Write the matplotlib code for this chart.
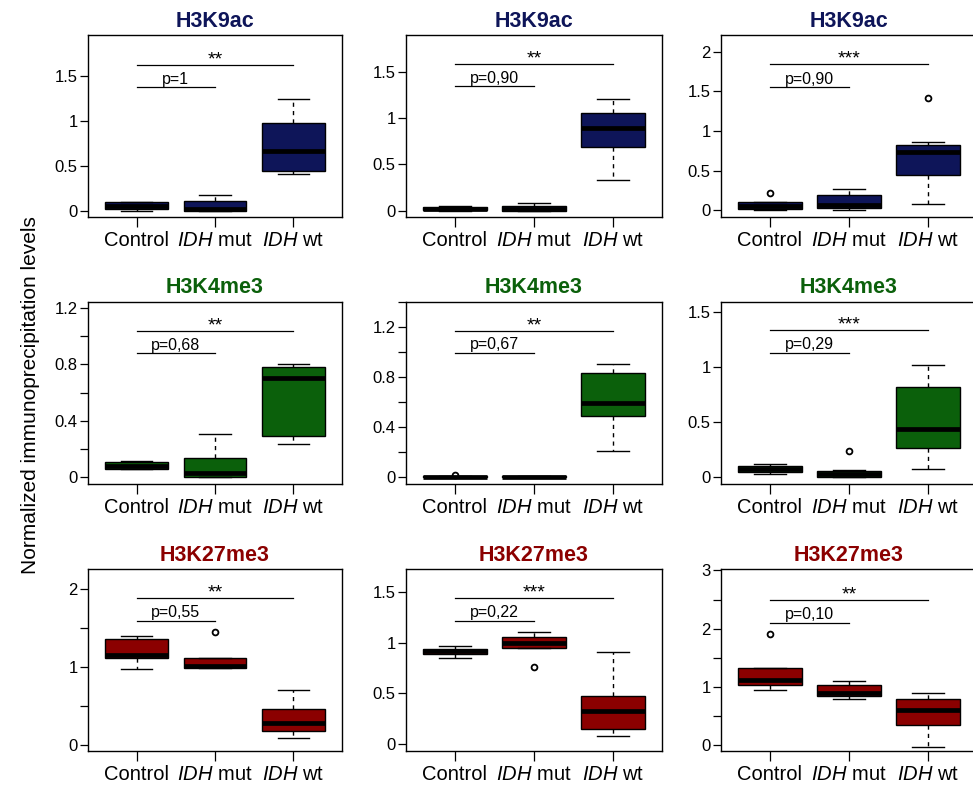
import matplotlib
matplotlib.use("Agg")
import matplotlib.pyplot as plt
import numpy as np

plt.rcParams['font.family'] = ['Liberation Sans', 'DejaVu Sans']
plt.rcParams['mathtext.fontset'] = 'custom'
plt.rcParams['mathtext.rm'] = 'Liberation Sans'
plt.rcParams['mathtext.it'] = 'Liberation Sans:italic'

# ---------------- data ----------------
titles = ["H3K9ac", "H3K9ac", "H3K9ac",
          "H3K4me3", "H3K4me3", "H3K4me3",
          "H3K27me3", "H3K27me3", "H3K27me3"]
groups = ["Control", r"$\mathit{IDH}$ mut", r"$\mathit{IDH}$ wt"]

# per panel: [Control, IDH mut, IDH wt]
whislo = [[0.00, 0.00, 0.41], [0.00, 0.00, 0.33], [0.00, 0.01, 0.084],
          [0.06, 0.00, 0.233], [0.00, 0.00, 0.21], [0.03, 0.00, 0.076],
          [0.974, 0.99, 0.094], [0.845, 0.95, 0.081], [0.947, 0.797, -0.034]]
q1 = [[0.02, 0.00, 0.445], [0.005, 0.00, 0.684], [0.02, 0.035, 0.44],
      [0.06, 0.00, 0.292], [0.00, 0.00, 0.49], [0.045, 0.005, 0.264],
      [1.12, 0.99, 0.184], [0.887, 0.949, 0.147], [1.033, 0.85, 0.344]]
med = [[0.055, 0.015, 0.66], [0.02, 0.015, 0.889], [0.06, 0.07, 0.73],
       [0.082, 0.028, 0.705], [0.005, 0.005, 0.59], [0.075, 0.035, 0.44],
       [1.154, 1.01, 0.278], [0.913, 0.995, 0.326], [1.12, 0.89, 0.602]]
q3 = [[0.093, 0.11, 0.97], [0.035, 0.05, 1.05], [0.105, 0.188, 0.83],
      [0.106, 0.14, 0.783], [0.01, 0.01, 0.83], [0.10, 0.06, 0.818],
      [1.359, 1.12, 0.46], [0.94, 1.054, 0.473], [1.33, 1.033, 0.792]]
whishi = [[0.10, 0.175, 1.245], [0.05, 0.08, 1.21], [0.105, 0.27, 0.857],
          [0.117, 0.304, 0.80], [0.01, 0.012, 0.90], [0.12, 0.065, 1.02],
          [1.39, 1.12, 0.71], [0.962, 1.106, 0.903], [1.33, 1.107, 0.895]]
fliers = [[[], [], []], [[], [], []], [[0.225], [], [1.415]],
          [[], [], []], [[0.02], [], []], [[], [0.236], []],
          [[], [1.45], []], [[], [0.76], []], [[1.91], [], []]]

p_labels = ["p=1", "p=0,90", "p=0,90",
            "p=0,68", "p=0,67", "p=0,29",
            "p=0,55", "p=0,22", "p=0,10"]
star_labels = ["**", "**", "***",
               "**", "**", "***",
               "**", "***", "**"]
p_line_y = [1.37, 1.34, 1.55, 0.877, 0.992, 1.127, 1.594, 1.216, 2.105]
star_line_y = [1.62, 1.58, 1.84, 1.037, 1.168, 1.33, 1.88, 1.435, 2.49]

# ---------------- style ----------------
ylims = [(-0.07, 1.95), (-0.068, 1.895), (-0.083, 2.21),
         (-0.047, 1.243), (-0.053, 1.395), (-0.06, 1.59),
         (-0.077, 2.25), (-0.065, 1.72), (-0.103, 3.02)]
tick_step = [0.5, 0.5, 0.5, 0.2, 0.2, 0.5, 0.5, 0.5, 0.5]
label_step = [0.5, 0.5, 0.5, 0.4, 0.4, 0.5, 1.0, 0.5, 1.0]
row_colors = ["#0e1559", "#0b600b", "#8b0000"]

W, H = 973, 790
col_px = [(88, 342), (406, 662), (721, 977)]
row_px = [(35, 217), (301.7, 484), (569.3, 751)]

fig = plt.figure(figsize=(W / 100, H / 100), dpi=100)


def fmt(v):
    s = ("%.2f" % v).rstrip("0").rstrip(".")
    return "0" if s in ("-0", "") else s


for i in range(9):
    r, c = divmod(i, 3)
    x0, x1 = col_px[c]
    t0, t1 = row_px[r]
    ax = fig.add_axes([x0 / W, 1 - t1 / H, (x1 - x0) / W, (t1 - t0) / H])
    color = row_colors[r]
    stats = []
    for g in range(3):
        stats.append(dict(med=med[i][g], q1=q1[i][g], q3=q3[i][g],
                          whislo=whislo[i][g], whishi=whishi[i][g],
                          fliers=fliers[i][g], label=groups[g]))
    ax.bxp(stats, positions=[1, 2, 3], widths=0.8, capwidths=0.4,
           patch_artist=True, showfliers=True,
           boxprops=dict(facecolor=color, edgecolor="black", linewidth=1.0),
           medianprops=dict(color="black", linewidth=3.4, solid_capstyle="butt"),
           whiskerprops=dict(color="black", linewidth=1.0, linestyle=(0, (3, 3))),
           capprops=dict(color="black", linewidth=1.0),
           flierprops=dict(marker="o", markersize=4.2, markerfacecolor="none",
                           markeredgecolor="black", markeredgewidth=1.3))
    ax.set_xlim(0.38, 3.62)
    ax.set_ylim(*ylims[i])

    # significance brackets
    ax.plot([1, 2], [p_line_y[i]] * 2, color="black", lw=0.9)
    ax.plot([1, 3], [star_line_y[i]] * 2, color="black", lw=0.9)
    ax.annotate(p_labels[i], (1.5, p_line_y[i]), xytext=(0, 0.5),
                textcoords="offset points", ha="center", va="bottom",
                fontsize=11.5)
    ax.annotate(star_labels[i], (2.0, star_line_y[i]), xytext=(0, -2.5),
                textcoords="offset points", ha="center", va="bottom",
                fontsize=14)

    # y ticks
    top = ylims[i][1]
    majors = np.arange(0, top + 1e-9, label_step[i])
    minors = [v for v in np.arange(0, top + 0.02, tick_step[i])
              if not np.any(np.isclose(v, majors))]
    ax.set_yticks(majors)
    ax.set_yticklabels([fmt(v) for v in majors])
    ax.set_yticks(minors, minor=True)
    ax.tick_params(axis="y", which="both", length=6, width=0.9, pad=1.5,
                   labelsize=12, direction="out")
    ax.set_xticks([1, 2, 3])
    ax.set_xticklabels(groups)
    ax.tick_params(axis="x", length=7, width=0.9, pad=3, labelsize=14.5)
    for s in ax.spines.values():
        s.set_linewidth(1.0)
    ax.set_title(titles[i], color=color, fontweight="bold", fontsize=15.5, pad=6)

fig.text(31 / W, 1 - 395 / H, "Normalized immunoprecipitation levels",
         rotation=90, ha="center", va="center", fontsize=15)

fig.savefig("out.png", dpi=100)
